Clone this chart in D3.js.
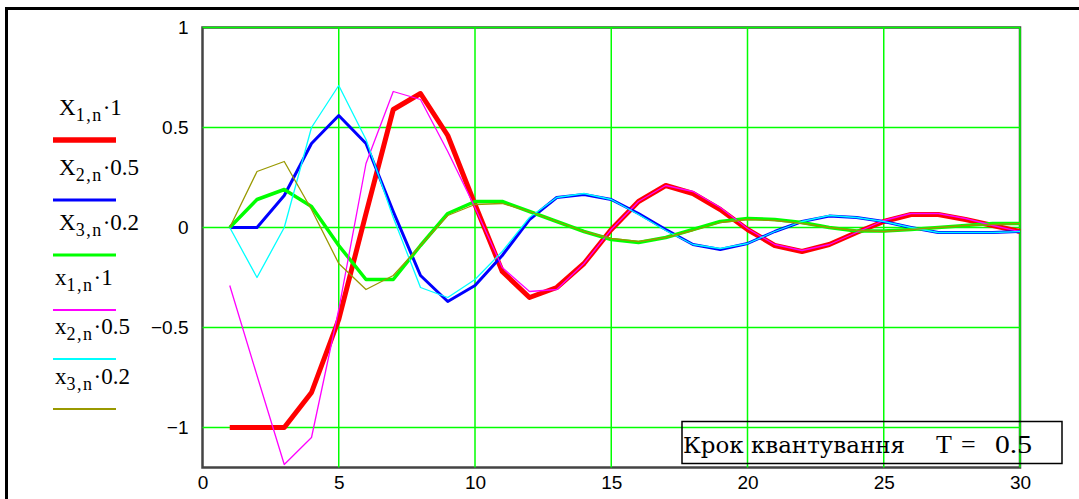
<!DOCTYPE html>
<html>
<head>
<meta charset="utf-8">
<script src="https://cdn.jsdelivr.net/npm/d3@7"></script>
<style>
  body { margin: 0; background: #fff; }
  svg { display: block; }
</style>
</head>
<body>
<div id="chart"></div>
<script>
"use strict";

// sample index n = 1..30
var n = d3.range(1, 31);

// continuous-model responses (thick)
var X1 = [-1, -1, -1, -0.825, -0.46, 0.07, 0.59, 0.67, 0.46, 0.115, -0.22, -0.35, -0.30, -0.18, -0.01,
  0.13, 0.21, 0.17, 0.09, -0.01, -0.09, -0.12, -0.085, -0.025, 0.03, 0.065, 0.065, 0.04, 0.01, -0.02];
var X2 = [0, 0, 0.16, 0.42, 0.56, 0.42, 0.08, -0.24, -0.37, -0.29, -0.14, 0.04, 0.15, 0.165, 0.14,
  0.07, -0.01, -0.085, -0.11, -0.08, -0.02, 0.03, 0.057, 0.05, 0.03, 0, -0.025, -0.025, -0.025, -0.02];
var X3 = [0, 0.14, 0.19, 0.105, -0.09, -0.26, -0.26, -0.09, 0.07, 0.13, 0.13, 0.08, 0.03, -0.02, -0.06,
  -0.075, -0.05, -0.01, 0.03, 0.045, 0.04, 0.025, 0, -0.018, -0.018, -0.01, 0, 0.01, 0.02, 0.02];

// quantized responses (thin)
var x1 = [-0.29, -0.74, -1.185, -1.05, -0.41, 0.32, 0.68, 0.64, 0.38, 0.1, -0.2, -0.32, -0.31, -0.18, -0.01,
  0.13, 0.21, 0.18, 0.1, -0.005, -0.085, -0.115, -0.085, -0.025, 0.035, 0.07, 0.07, 0.045, 0.01, -0.02];
var x2 = [0, -0.25, 0, 0.5, 0.71, 0.44, 0.05, -0.3, -0.35, -0.26, -0.12, 0.05, 0.15, 0.17, 0.14,
  0.065, -0.015, -0.085, -0.105, -0.08, -0.02, 0.03, 0.06, 0.05, 0.03, 0, -0.025, -0.025, -0.025, -0.02];
var x3 = [0, 0.28, 0.33, 0.09, -0.18, -0.31, -0.24, -0.09, 0.06, 0.115, 0.12, 0.08, 0.03, -0.02, -0.055,
  -0.07, -0.05, -0.015, 0.025, 0.04, 0.035, 0.02, 0, -0.015, -0.02, -0.01, 0, 0.01, 0.015, 0.02];

var xTicks = [0, 5, 10, 15, 20, 25, 30];
var yTicks = [-1, -0.5, 0, 0.5, 1];

var series = [
  { v: X1, big: "X", sub: "1,n", k: "1",   color: "#ff0000", w: 5,   lw: 5.5 },
  { v: X2, big: "X", sub: "2,n", k: "0.5", color: "#0000ff", w: 3,   lw: 3 },
  { v: X3, big: "X", sub: "3,n", k: "0.2", color: "#00ff00", w: 3.5, lw: 3 },
  { v: x1, big: "x", sub: "1,n", k: "1",   color: "#ff00ff", w: 1.3, lw: 2 },
  { v: x2, big: "x", sub: "2,n", k: "0.5", color: "#00ffff", w: 1.3, lw: 2 },
  { v: x3, big: "x", sub: "3,n", k: "0.2", color: "#999900", w: 1.3, lw: 2 }
];

var serif = '"Liberation Serif", "Times New Roman", serif';
var cyrSerif = '"DejaVu Serif", "Liberation Serif", serif';
var sans = '"Liberation Sans", Arial, sans-serif';

var W = 1079, H = 499;
var svg = d3.select("#chart").append("svg")
  .attr("width", W)
  .attr("height", H);

// outer frame
svg.append("rect")
  .attr("x", 6.5).attr("y", 8.5)
  .attr("width", W + 20).attr("height", H + 20)
  .attr("fill", "none")
  .attr("stroke", "#000")
  .attr("stroke-width", 3);

var x = d3.scaleLinear().domain([0, 30]).range([202.5, 1020]);
var y = d3.scaleLinear().domain([-1.2, 1]).range([467.5, 27.5]);

// plot frame
svg.append("rect")
  .attr("x", x(0)).attr("y", y(1))
  .attr("width", x(30) - x(0)).attr("height", y(-1.2) - y(1))
  .attr("fill", "none")
  .attr("stroke", "#444")
  .attr("stroke-width", 2.5);

// grid
var grid = svg.append("g").attr("stroke", "#00ff00").attr("stroke-width", 1.5);
grid.selectAll("line.v").data(xTicks.slice(1)).enter().append("line")
  .attr("x1", d => x(d)).attr("x2", d => x(d))
  .attr("y1", y(1)).attr("y2", y(-1.2));
grid.selectAll("line.h").data(yTicks).enter().append("line")
  .attr("x1", x(0)).attr("x2", x(30))
  .attr("y1", d => y(d)).attr("y2", d => y(d));

// axis labels (no tick marks, just numbers)
var yAxis = d3.axisLeft(y).tickValues(yTicks).tickSize(0).tickPadding(14)
  .tickFormat(d => d < 0 ? "\u2212" + Math.abs(d) : d);
svg.append("g").attr("transform", "translate(" + x(0) + ",0)").call(yAxis)
  .call(g => g.select(".domain").remove())
  .selectAll("text")
  .style("font-family", sans)
  .style("font-size", "19px")
  .attr("fill", "#000");

var xAxis = d3.axisBottom(x).tickValues(xTicks).tickSize(0).tickPadding(8);
svg.append("g").attr("transform", "translate(0," + y(-1.2) + ")").call(xAxis)
  .call(g => g.select(".domain").remove())
  .selectAll("text")
  .style("font-family", sans)
  .style("font-size", "19px")
  .attr("fill", "#000");

// traces
var line = d3.line()
  .x((d, i) => x(n[i]))
  .y(d => y(d));

svg.append("g").selectAll("path").data(series).enter().append("path")
  .attr("d", s => line(s.v))
  .attr("fill", "none")
  .attr("stroke", s => s.color)
  .attr("stroke-width", s => s.w)
  .attr("stroke-linejoin", "round");

// legend
var legY = [115, 175, 230, 285, 334, 384];
var leg = svg.append("g")
  .style("font-family", serif)
  .attr("fill", "#000");
series.forEach(function(s, i) {
  var t = leg.append("text")
    .attr("x", s.big === "X" ? 59 : 55)
    .attr("y", legY[i])
    .style("font-size", "23px");
  t.append("tspan").text(s.big);
  t.append("tspan").attr("dy", 6).style("font-size", "18px").attr("letter-spacing", 1.5).text(s.sub);
  t.append("tspan").attr("dy", -6).style("font-size", "23px").text("\u00b7" + s.k);
  leg.append("line")
    .attr("x1", 53).attr("x2", 116)
    .attr("y1", legY[i] + 25).attr("y2", legY[i] + 25)
    .attr("stroke", s.color)
    .attr("stroke-width", s.lw);
});

// annotation box
svg.append("rect")
  .attr("x", 682).attr("y", 421.5)
  .attr("width", 380).attr("height", 42)
  .attr("fill", "none")
  .attr("stroke", "#000")
  .attr("stroke-width", 1.5);
var ann = svg.append("g")
  .style("font-family", serif)
  .style("font-size", "26px")
  .attr("fill", "#000");
ann.append("text").attr("x", 683).attr("y", 453)
  .style("font-family", cyrSerif)
  .style("font-size", "23px")
  .attr("textLength", 222).attr("lengthAdjust", "spacingAndGlyphs")
  .text("Крок квантування");
ann.append("text").attr("x", 936).attr("y", 453).text("T");
ann.append("text").attr("x", 961).attr("y", 453).text("=");
ann.append("text").attr("x", 995).attr("y", 453)
  .attr("textLength", 37).attr("lengthAdjust", "spacingAndGlyphs")
  .text("0.5");
</script>
</body>
</html>
